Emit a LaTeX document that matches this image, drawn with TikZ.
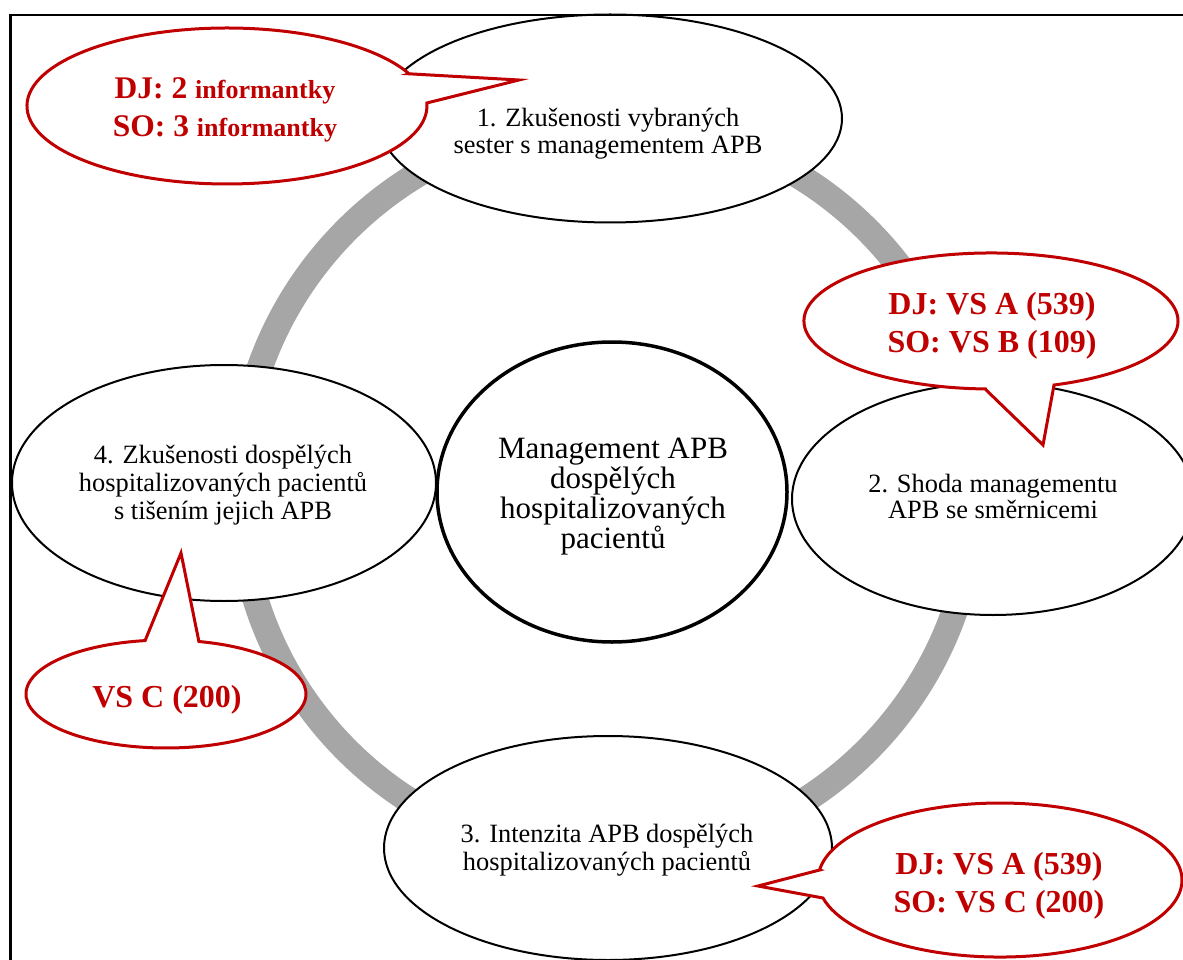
\documentclass[tikz,border=0pt]{standalone}
\usepackage{fontspec}
\setmainfont{Liberation Serif}
\usetikzlibrary{shapes.geometric}
\definecolor{calloutred}{HTML}{C00000}
\definecolor{ringgray}{HTML}{A6A6A6}
\begin{document}
\begin{tikzpicture}[x=1pt,y=-1pt,
  topic/.style={ellipse, draw=black, line width=2pt, fill=white, inner sep=0pt},
  topictext/.style={anchor=base, align=center, font=\fontsize{26.4}{27}\selectfont},
  coretext/.style={anchor=base, align=center, font=\fontsize{31}{30}\selectfont},
  bubble/.style={draw=calloutred, line width=3pt, fill=white, line join=miter},
  bubbletext/.style={anchor=base, align=center, text=calloutred, font=\bfseries\fontsize{32}{37.5}\selectfont},
]
\useasboundingbox (0,0) rectangle (1183,960);

% grey cycle ring behind the topics
\draw[ringgray, line width=26pt] (607,490) circle[radius=368pt];

% four topic ellipses and the central one
\node[topic, minimum width=464pt, minimum height=208pt] (e1) at (610,118.5) {};
\node[topic, minimum width=402pt, minimum height=232pt] (e2) at (993,499) {};
\node[topic, minimum width=448pt, minimum height=224pt] (e3) at (608,848) {};
\node[topic, minimum width=424pt, minimum height=236pt] (e4) at (224,483) {};
\node[topic, line width=3.5pt, minimum width=350pt, minimum height=300pt] (core) at (612,492) {};

% texts are placed by the baseline of their last line
\node[topictext] (t1) at (608,154) {1. Zkušenosti vybraných\\sester s managementem APB};
\node[topictext, font=\fontsize{26.4}{26}\selectfont] (t2) at (993,518) {2. Shoda managementu\\APB se směrnicemi};
\node[topictext, font=\fontsize{26.4}{28}\selectfont] (t3) at (607,870) {3. Intenzita APB dospělých\\hospitalizovaných pacientů};
\node[topictext, font=\fontsize{26.4}{28}\selectfont] (t4) at (223,519) {4. Zkušenosti dospělých\\hospitalizovaných pacientů\\s tišením jejich APB};
\node[coretext] (tc) at (613,548) {Management APB\\dospělých\\hospitalizovaných\\pacientů};

% speech bubbles
\coordinate (p1) at (519,80);
\draw[bubble] (409,73.8) -- (p1) -- (426.8,103) arc[start angle=2.2, end angle=-335.6, x radius=200pt, y radius=78pt] -- cycle;
\node[bubbletext, font=\bfseries\fontsize{31.5}{38}\selectfont] (b1) at (225,137)
  {DJ: 2 {\fontsize{26}{38}\selectfont informantky}\\SO: 3 {\fontsize{26}{38}\selectfont informantky}};

\coordinate (p2) at (1043,445);
\draw[bubble] (985.1,389) -- (p2) -- (1054,385) arc[start angle=-70.3, end angle=268.2, x radius=187pt, y radius=68pt] -- cycle;
\node[bubbletext] (b2) at (992,352) {DJ: VS A (539)\\SO: VS B (109)};

\coordinate (p3) at (181,553);
\draw[bubble] (145.1,640.6) -- (p3) -- (198.9,641.5) arc[start angle=76.4, end angle=-261.4, x radius=140pt, y radius=54pt] -- cycle;
\node[bubbletext] (b3) at (167,707) {VS C (200)};

\coordinate (p4) at (758,886);
\draw[bubble] (819.6,870) -- (p4) -- (823,898) arc[start angle=193.5, end angle=532.5, x radius=182pt, y radius=77pt] -- cycle;
\node[bubbletext] (b4) at (999,912) {DJ: VS A (539)\\SO: VS C (200)};

% page frame
\draw[line width=3pt] (10,960) -- (10,15);
\draw[line width=2pt] (8.5,15) -- (1183,15);
\end{tikzpicture}
\end{document}
